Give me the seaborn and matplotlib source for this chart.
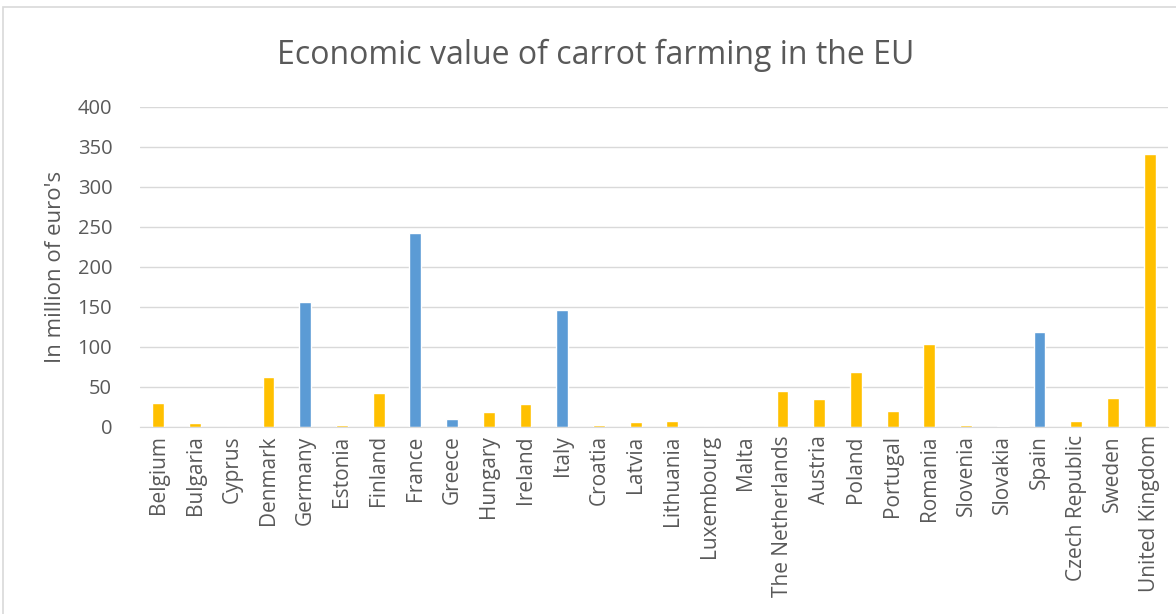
import pandas as pd
import matplotlib.pyplot as plt
import seaborn as sns
from matplotlib.patches import Rectangle

# ---- data ----
countries = ['Belgium', 'Bulgaria', 'Cyprus', 'Denmark', 'Germany', 'Estonia', 'Finland',
             'France', 'Greece', 'Hungary', 'Ireland', 'Italy', 'Croatia', 'Latvia',
             'Lithuania', 'Luxembourg', 'Malta', 'The Netherlands', 'Austria', 'Poland',
             'Portugal', 'Romania', 'Slovenia', 'Slovakia', 'Spain', 'Czech Republic',
             'Sweden', 'United Kingdom']
values = [30, 5, 0.5, 62, 156, 3, 43, 243, 10, 19, 29, 146, 3, 6,
          7, 0, 0, 45, 35, 69, 20, 104, 3, 1.5, 119, 8, 36, 341]
highlighted = ['Germany', 'France', 'Greece', 'Italy', 'Spain']

df = pd.DataFrame({'country': countries, 'value': values})
df['group'] = ['blue' if c in highlighted else 'gold' for c in df['country']]
palette = {'blue': '#5B9BD5', 'gold': '#FFC000'}

sns.set_style('white')
plt.rcParams['font.family'] = ['Open Sans', 'DejaVu Sans']

W, H = 1176, 614
fig = plt.figure(figsize=(W / 100, H / 100), dpi=100)
ax = fig.add_axes([140 / W, 1 - 427 / H, (1168 - 140) / W, (427 - 107) / H])

sns.barplot(data=df, x='country', y='value', hue='group', palette=palette,
            width=0.32, legend=False, ax=ax, dodge=False, saturation=1)

ax.set_ylim(0, 400)
ax.set_yticks(range(0, 401, 50))
ax.yaxis.grid(True, color='#D9D9D9', linewidth=1)
ax.set_axisbelow(True)
for s in ['top', 'right', 'left']:
    ax.spines[s].set_visible(False)
ax.spines['bottom'].set_color('#D9D9D9')
ax.tick_params(axis='both', length=0, colors='#595959')
ax.tick_params(axis='y', pad=20, labelsize=14.5)
ax.tick_params(axis='x', pad=6, labelsize=15)
ax.set_xticks(range(len(countries)))
ax.set_xticklabels(countries, rotation=90)
ax.set_xlabel('')
ax.set_ylabel("In million of euro's", fontsize=16, color='#595959', labelpad=8)

fig.text(596 / W, 1 - 55 / H, 'Economic value of carrot farming in the EU',
         ha='center', va='center', fontsize=23, color='#595959')

# chart frame
fig.patches.append(Rectangle((3 / W, -0.1), 1.2, 1 - 7 / H + 0.1, transform=fig.transFigure,
                             fill=False, edgecolor='#D9D9D9', linewidth=1.2))

fig.savefig('out.png', dpi=100)
